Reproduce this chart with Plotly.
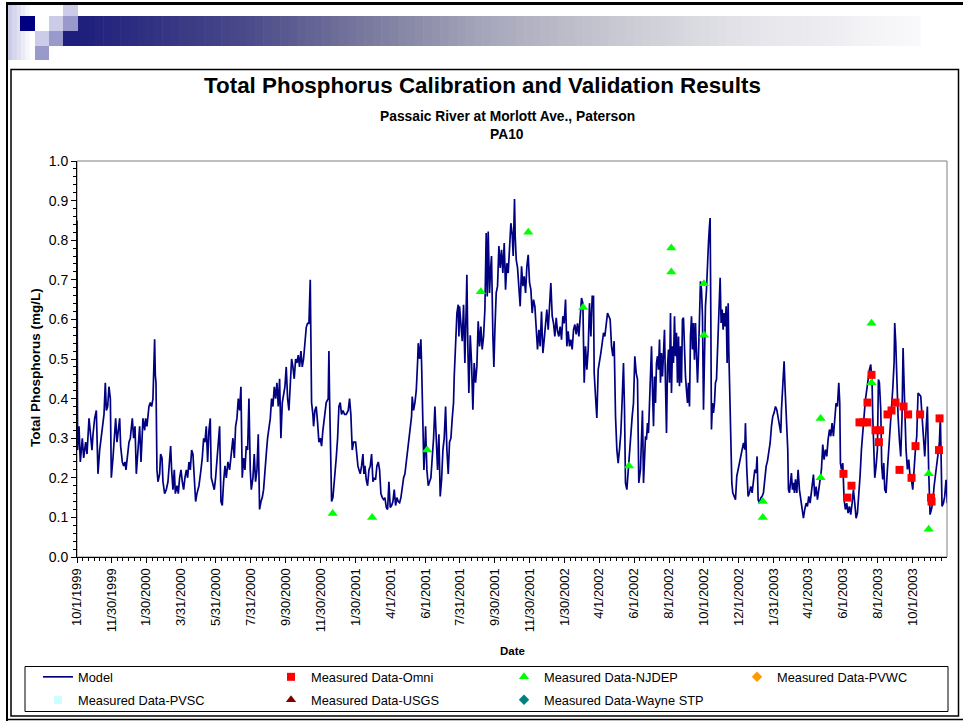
import numpy as np
import pandas as pd
import plotly.graph_objects as go

# ---------------- data ----------------
START = "1999-10-01"
END = "2003-11-30"

# Model: days since 10/1/1999 and total phosphorus (mg/L)
model_day = [
    0, 1, 3.5, 5.8, 9.3, 11.7, 15.1, 17.5, 21, 23.9,
    26.2, 28, 30.9, 33.8, 36.7, 39.6, 44.3, 47.2, 49.5, 51.3,
    53.6, 55.9, 58.3, 60, 62.9, 65.8, 67.6, 69.9, 72.2, 74.6,
    76.3, 79.2, 81.6, 83.9, 85.6, 88, 90.9, 93.2, 95, 96.7,
    99, 101.4, 103.7, 106, 109.5, 111.9, 115.3, 118.3, 120, 122.3,
    125.8, 128.2, 130.5, 132.8, 135.7, 136.9, 138.1, 139.8, 141.6, 144.5,
    146.2, 148.6, 150.3, 153.2, 156.1, 159, 161.9, 163.7, 165.4, 167.8,
    170.1, 171.9, 174.8, 177.1, 179.4, 181.8, 184.1, 186.4, 188.7, 191.1,
    193.4, 195.7, 198.1, 200.4, 202.7, 205.1, 207.4, 209.7, 213.2, 216.7,
    219, 221.4, 223.7, 226, 228.4, 230.7, 233, 234.8, 237.7, 240,
    242.3, 244.7, 247, 249.3, 251.7, 254, 256.3, 258.7, 261, 263.9,
    266.8, 269.7, 272.6, 275, 277.3, 279.6, 282, 284.3, 286.6, 288.9,
    291.3, 293.6, 295.9, 298.3, 300.6, 302.9, 304.7, 307.6, 309.9, 312.2,
    314.6, 316.9, 319.2, 321.6, 323.9, 326.2, 328.6, 330.9, 333.2, 335.5,
    337.9, 340.2, 342.5, 344.9, 347.2, 349.5, 351.9, 354.2, 356.5, 358.9,
    361.2, 363.5, 365.8, 368.2, 370.5, 372.8, 375.2, 377.5, 379.8, 382.2,
    384.5, 386.8, 389.1, 391.5, 393.8, 396.1, 398.5, 400.8, 403.1, 405.5,
    407.8, 409, 410.1, 412.4, 413.6, 415.9, 418.2, 420.6, 422.9, 425.3,
    427.6, 429.9, 433.4, 435.7, 439.2, 440.4, 441.6, 442.7, 445.1, 447.4,
    449.7, 453.2, 455.6, 457.9, 460.2, 462.5, 464.9, 467.8, 470.7, 474.2,
    476.5, 478.8,
    481.2, 483.6, 487.1, 489.4, 491.1, 492.9, 495.2, 497.5, 499.9, 501.6,
    503.4, 505.7, 508, 510.4, 512.7, 515, 517.4, 519.7, 522, 524.3,
    526.7, 529, 531.3, 533.7, 536, 538.3, 540.7, 543, 545.3, 547.6,
    550, 552.3, 554.6, 557, 559.3, 561.6, 564, 566.3, 568.6, 571,
    573.3, 575.6, 577.9, 580.3, 582.6, 584.9, 586.1, 588.4, 590.8, 593.1,
    595.4, 596.6, 598.9, 601.2, 602.4, 603.6, 604.7, 606.5, 608.2, 609.4,
    611.7, 614.1, 616.4, 618.7, 621, 623.4, 625.7, 628, 630.4, 632.7,
    635, 637.4, 639.7, 642, 644.4, 646.7, 649, 651.3, 653.7, 656,
    658.3, 659.5, 661.8, 664.2, 666.5, 667.7, 668.8, 671.1, 673.5, 675.8,
    678.1, 680.5, 681.6, 683.4, 685.1, 687.5, 689.8, 692.1, 694.4, 696.8,
    699.1, 701.4, 703.8, 706.1, 708.4, 710.8, 713.1, 715.4, 717.2, 718.9,
    721.2, 723, 724.7, 727.1, 728.8, 730.6, 732.9, 735.2, 737.6, 739.9,
    742.2, 744.5, 746.9, 749.2, 751.5, 753.9, 756.2, 758.5, 760.9, 762.6,
    763.8, 764.9, 766.1, 767.9, 770.2, 772.5, 774.8, 777.2, 779.5, 781.8,
    784.2, 786.5, 788.8, 791.2, 793.5, 795.8, 798.1, 800.5, 802.8, 805.1,
    807.5, 809.8, 812.1, 814.5, 816.8, 819.1, 821.4, 823.8, 826.1, 828.4,
    830.8, 833.1, 835.4, 837.8, 840.1, 842.4, 844.7, 847.1, 849.4, 851.7,
    854.1, 856.4, 858.7, 861.1, 863.4, 865.7, 868.1, 870.4, 872.7, 875,
    877.4, 879.7, 882, 884.4, 886.7, 889, 891.4, 893.7, 896, 898.4,
    900.7, 903, 904.2, 906.5, 908.8, 911.2, 913.5, 915.8, 918.2, 920.5,
    922.8, 925.1, 927.5, 929.8, 932.1, 934.5, 936.8, 939.1, 940.3, 941.5,
    943.8, 946.1, 948.4, 950.8, 953.1, 955.4, 957.2, 958.9, 961.3, 963.6,
    965.9, 968.3, 970.6, 972.9, 975.2, 977.6, 979.9, 982.2,
    985.1, 986.9, 988.6, 990.4, 992.1, 993.9, 995.6, 997.4, 999.1, 1000.9,
    1002.6, 1004.4, 1006.1, 1007.9, 1009.6, 1011.4, 1013.1, 1014.9, 1016.6, 1018.4,
    1020.1, 1021.8, 1023.6, 1025.3, 1027.1, 1028.8, 1030.6, 1032.3, 1034.1, 1035.8,
    1037.6, 1039.3, 1041.1, 1042.8, 1044.6, 1046.3, 1048.1, 1049.8, 1051.6, 1053.3,
    1055.1, 1056.8, 1058.5, 1060.3, 1062, 1063.8, 1065.5, 1067.3, 1069, 1070.8,
    1072.5, 1074.3, 1076, 1077.8, 1079.5, 1081.3, 1083, 1084.8, 1086.5, 1088.3,
    1090, 1091.8, 1093.5, 1095.3, 1097, 1098.7, 1100.5, 1102.2, 1104, 1105.7,
    1106.9, 1108.1, 1109.2, 1111, 1112.7, 1114.5, 1116.2, 1118, 1119.7, 1121.5,
    1123.2, 1124.4, 1126.1, 1127.9, 1129.6, 1131.4, 1133.1, 1134.9, 1136.6, 1138.4,
    1139.5, 1141.3, 1143, 1144.8, 1146.5, 1148.8, 1151.2, 1153.5, 1155.8, 1158.2,
    1160.5, 1162.8, 1165.2, 1167.5, 1168.6, 1171, 1173.3, 1175.6, 1178, 1180.3,
    1182.6, 1185, 1187.3, 1189, 1190.8, 1193.1, 1195.4, 1197.8, 1200.1, 1202.4,
    1204.8, 1207.1, 1209.4, 1211.8, 1214.1, 1216.4, 1218.7, 1221.1, 1223.4, 1225.7,
    1228.1, 1230.4, 1231.6, 1233.9, 1236.2, 1238, 1239.7, 1241.5, 1242.6, 1243.8,
    1245.5, 1247.3, 1249, 1250.8, 1252.5, 1254.3, 1256, 1258.4, 1260.7, 1263,
    1265.4, 1267.7, 1270, 1272.3, 1274.7, 1277, 1279.3, 1281.7, 1284, 1286.3,
    1287.5, 1289.8, 1292.2, 1294.5, 1296.8, 1299.1, 1301.5, 1303.8, 1306.1, 1308.5,
    1310.8, 1313.1, 1315.5, 1317.8, 1320.1, 1322.4, 1324.8, 1327.1, 1329.4, 1331.8,
    1333.5, 1334.7, 1336.4, 1338.8, 1341.1, 1343.4, 1345.7, 1348.1, 1350.4, 1352.7,
    1355.1, 1357.4, 1359.7, 1362.1, 1364.4, 1366.7, 1369, 1371.4, 1373.7, 1376,
    1378.4, 1380.7, 1383, 1385.4, 1387.7, 1390, 1391.2, 1392.9, 1394.7, 1397,
    1399.3, 1401.1, 1402.8, 1405.2, 1406.9, 1408.7, 1410.4, 1412.2, 1414.5, 1416.8,
    1419.1, 1421.5, 1423.8, 1426.1, 1428.5, 1429.6, 1431.4, 1433.1, 1435.5, 1437.8,
    1440.1, 1442.4, 1444.2, 1445.9, 1447.7, 1449.4, 1451.8, 1454.1, 1456.4, 1458.8,
    1461.1, 1463.4, 1465.8, 1468.1, 1470.4, 1472.7, 1475.1, 1477.4, 1479.7, 1482.1,
    1484.4, 1486.7, 1489.1, 1491.4, 1493.7, 1496, 1498.4, 1500.7, 1503, 1505.4,
    1507.7, 1509.4, 1511.2, 1512.3, 1514.7, 1517, 1519.3, 1521.6,
]
model_tp = [
    0.85, 0.27, 0.33, 0.24, 0.30, 0.25, 0.29, 0.26, 0.35, 0.31,
    0.27, 0.31, 0.35, 0.37, 0.21, 0.27, 0.33, 0.36, 0.44, 0.37,
    0.38, 0.43, 0.40, 0.20, 0.25, 0.32, 0.35, 0.29, 0.33, 0.35,
    0.28, 0.24, 0.23, 0.24, 0.22, 0.26, 0.29, 0.30, 0.33, 0.35,
    0.30, 0.33, 0.21, 0.25, 0.33, 0.24, 0.35, 0.32, 0.35, 0.33,
    0.38, 0.39, 0.38, 0.40, 0.55, 0.46, 0.44, 0.22, 0.19, 0.21,
    0.26, 0.25, 0.19, 0.16, 0.17, 0.19, 0.24, 0.28, 0.22, 0.17,
    0.22, 0.16, 0.18, 0.16, 0.20, 0.22, 0.19, 0.17, 0.20, 0.22,
    0.20, 0.24, 0.22, 0.27, 0.26, 0.21, 0.14, 0.16, 0.18, 0.22,
    0.25, 0.30, 0.29, 0.33, 0.24, 0.32, 0.35, 0.20, 0.18, 0.17,
    0.20, 0.25, 0.30, 0.33, 0.14, 0.13, 0.19, 0.23, 0.20, 0.24,
    0.22, 0.27, 0.30, 0.25, 0.33, 0.35, 0.40, 0.37, 0.43, 0.20,
    0.25, 0.22, 0.28, 0.27, 0.40, 0.22, 0.17, 0.20, 0.26, 0.19,
    0.22, 0.31, 0.12, 0.14, 0.15, 0.17, 0.23, 0.26, 0.30, 0.33,
    0.35, 0.40, 0.38, 0.43, 0.40, 0.44, 0.38, 0.45, 0.30, 0.39,
    0.41, 0.43, 0.48, 0.40, 0.37, 0.45, 0.50, 0.48, 0.45, 0.50,
    0.49, 0.51, 0.48, 0.52, 0.48, 0.50, 0.54, 0.58, 0.59, 0.59,
    0.70, 0.55, 0.39, 0.36, 0.33, 0.37, 0.38, 0.34, 0.29, 0.30,
    0.28, 0.32, 0.37, 0.39, 0.40, 0.52, 0.40, 0.32, 0.14, 0.15,
    0.20, 0.25, 0.30, 0.38, 0.39, 0.36, 0.37, 0.36, 0.36, 0.37,
    0.40, 0.36,
    0.27, 0.29, 0.29, 0.25, 0.23, 0.22, 0.21, 0.23, 0.26, 0.21,
    0.23, 0.195, 0.18, 0.22, 0.23, 0.26, 0.19, 0.20, 0.195, 0.23,
    0.24, 0.22, 0.16, 0.15, 0.145, 0.15, 0.125, 0.12, 0.19, 0.125,
    0.13, 0.14, 0.17, 0.13, 0.15, 0.14, 0.137, 0.15, 0.18, 0.20,
    0.21, 0.24, 0.27, 0.30, 0.33, 0.355, 0.405, 0.37, 0.39, 0.42,
    0.49, 0.54, 0.50, 0.55, 0.49, 0.39, 0.33, 0.22, 0.27, 0.33,
    0.22, 0.18, 0.19, 0.20, 0.25, 0.30, 0.38, 0.29, 0.22, 0.31,
    0.153, 0.195, 0.27, 0.30, 0.38, 0.27, 0.21, 0.29, 0.30, 0.35,
    0.39, 0.456, 0.52, 0.616, 0.637, 0.557, 0.633, 0.583, 0.545, 0.637,
    0.49, 0.633, 0.713, 0.524, 0.414, 0.56, 0.49, 0.372, 0.49, 0.44,
    0.482, 0.595, 0.532, 0.582, 0.524, 0.557, 0.625, 0.818, 0.658, 0.822,
    0.667, 0.726, 0.76, 0.557, 0.48, 0.574, 0.667, 0.684, 0.785, 0.73,
    0.776, 0.717, 0.793, 0.675, 0.742, 0.717, 0.785, 0.843, 0.814, 0.76,
    0.835, 0.904, 0.81, 0.75, 0.73, 0.667, 0.633, 0.734, 0.684, 0.709,
    0.667, 0.734, 0.763, 0.692, 0.675, 0.616, 0.65, 0.633, 0.59, 0.524,
    0.574, 0.532, 0.62, 0.515, 0.549, 0.59, 0.625, 0.574, 0.641, 0.692,
    0.608, 0.59, 0.557, 0.604, 0.57, 0.557, 0.582, 0.549, 0.608, 0.59,
    0.65, 0.532, 0.57, 0.532, 0.549, 0.524, 0.574, 0.587, 0.562, 0.59,
    0.557, 0.608, 0.654, 0.641, 0.44, 0.532, 0.473, 0.524, 0.641, 0.557,
    0.658, 0.658, 0.464, 0.406, 0.351, 0.473, 0.49, 0.515, 0.54, 0.566,
    0.557, 0.582, 0.616, 0.608, 0.60, 0.532, 0.507, 0.545, 0.44, 0.355,
    0.271, 0.237, 0.271, 0.313, 0.397, 0.49, 0.372, 0.187, 0.17, 0.221,
    0.271, 0.305, 0.355, 0.389, 0.507, 0.465, 0.448, 0.187,
    0.221, 0.30, 0.37, 0.187, 0.246, 0.305, 0.296, 0.338, 0.313, 0.389,
    0.49, 0.532, 0.422, 0.33, 0.456, 0.389, 0.49, 0.507, 0.473, 0.549,
    0.44, 0.515, 0.456, 0.507, 0.574, 0.44, 0.313, 0.481, 0.524, 0.44,
    0.616, 0.414, 0.532, 0.49, 0.608, 0.507, 0.566, 0.44, 0.557, 0.431,
    0.532, 0.44, 0.60, 0.604, 0.507, 0.456, 0.422, 0.389, 0.44, 0.38,
    0.557, 0.608, 0.524, 0.591, 0.498, 0.591, 0.515, 0.44, 0.507, 0.608,
    0.696, 0.675, 0.608, 0.372, 0.524, 0.633, 0.675, 0.75, 0.793, 0.835,
    0.856, 0.608, 0.322, 0.389, 0.364, 0.389, 0.44, 0.448, 0.507, 0.591,
    0.633, 0.705, 0.591, 0.625, 0.574, 0.616, 0.582, 0.633, 0.49, 0.641,
    0.524, 0.38, 0.271, 0.187, 0.162, 0.153, 0.145, 0.204, 0.221, 0.237,
    0.254, 0.279, 0.288, 0.271, 0.338, 0.221, 0.153, 0.162, 0.178, 0.162,
    0.187, 0.221, 0.212, 0.254, 0.145, 0.136, 0.149, 0.153, 0.162, 0.196,
    0.229, 0.242, 0.267, 0.288, 0.33, 0.355, 0.364, 0.38, 0.372, 0.355,
    0.338, 0.313, 0.372, 0.423, 0.494, 0.423, 0.364, 0.338, 0.271, 0.17,
    0.162, 0.187, 0.212, 0.17, 0.187, 0.162, 0.196, 0.162, 0.22, 0.17,
    0.145, 0.111, 0.098, 0.12, 0.136, 0.128, 0.153, 0.136, 0.162, 0.187,
    0.208, 0.153, 0.178, 0.145, 0.17, 0.187, 0.221, 0.284, 0.246, 0.271,
    0.254, 0.296, 0.322, 0.305, 0.338, 0.305, 0.364, 0.389, 0.38, 0.44,
    0.389, 0.237, 0.221, 0.237, 0.145, 0.12, 0.136, 0.111, 0.128, 0.107,
    0.136, 0.17, 0.136, 0.098, 0.111, 0.153, 0.204, 0.271, 0.305, 0.355,
    0.397, 0.423, 0.456, 0.473, 0.486, 0.44, 0.355, 0.288, 0.20, 0.229,
    0.271, 0.448, 0.44, 0.372, 0.229, 0.196, 0.237, 0.17, 0.162, 0.221,
    0.271, 0.296, 0.355, 0.423, 0.49, 0.591, 0.54, 0.44, 0.355, 0.296,
    0.254, 0.355, 0.528, 0.44, 0.33, 0.271, 0.221, 0.246, 0.204, 0.196,
    0.17, 0.229, 0.271, 0.305, 0.414, 0.41, 0.406, 0.355, 0.296, 0.254,
    0.322, 0.38, 0.212, 0.107, 0.12, 0.136, 0.178, 0.204, 0.221, 0.254,
    0.288, 0.355, 0.246, 0.128, 0.136, 0.153, 0.195, 0.136,
]
assert len(model_day) == len(model_tp), (len(model_day), len(model_tp))

omni_dates = ["2003-06-02", "2003-06-09", "2003-06-16", "2003-06-30", "2003-07-07",
              "2003-07-14", "2003-07-14", "2003-07-21", "2003-07-28", "2003-08-03",
              "2003-08-05", "2003-08-18", "2003-08-25", "2003-09-01", "2003-09-08",
              "2003-09-15", "2003-09-23", "2003-09-29", "2003-10-06", "2003-10-14",
              "2003-11-02", "2003-11-03", "2003-11-16", "2003-11-17"]
omni_tp = [0.21, 0.15, 0.18, 0.34, 0.34,
           0.34, 0.39, 0.46, 0.32, 0.29,
           0.32, 0.36, 0.37, 0.39, 0.22,
           0.38, 0.36, 0.20, 0.28, 0.36,
           0.15, 0.14, 0.27, 0.35]

njdep_dates = ["2000-12-21", "2001-02-28", "2001-06-04", "2001-09-06", "2001-11-28",
               "2002-03-04", "2002-05-23", "2002-08-05", "2002-08-05", "2002-10-01",
               "2002-10-01", "2003-01-12", "2003-01-12", "2003-04-23", "2003-04-23",
               "2003-07-21", "2003-07-21", "2003-10-29", "2003-10-29"]
njdep_tp = [0.11, 0.10, 0.27, 0.67, 0.82,
            0.63, 0.23, 0.78, 0.72, 0.69,
            0.56, 0.14, 0.10, 0.35, 0.20,
            0.59, 0.44, 0.21, 0.07]

# series listed in the legend with no measurements in this period
pvwc_dates, pvwc_tp = [None], [None]
pvsc_dates, pvsc_tp = [None], [None]
usgs_dates, usgs_tp = [None], [None]
wayne_dates, wayne_tp = [None], [None]

tick_dates = ["1999-10-01", "1999-11-30", "2000-01-30", "2000-03-31", "2000-05-31",
              "2000-07-31", "2000-09-30", "2000-11-30", "2001-01-30", "2001-04-01",
              "2001-06-01", "2001-07-31", "2001-09-30", "2001-11-30", "2002-01-30",
              "2002-04-01", "2002-06-01", "2002-08-01", "2002-10-01", "2002-12-01",
              "2003-01-31", "2003-04-01", "2003-06-01", "2003-08-01", "2003-10-01"]
tick_labels = ["10/1/1999", "11/30/1999", "1/30/2000", "3/31/2000", "5/31/2000",
               "7/31/2000", "9/30/2000", "11/30/2000", "1/30/2001", "4/1/2001",
               "6/1/2001", "7/31/2001", "9/30/2001", "11/30/2001", "1/30/2002",
               "4/1/2002", "6/1/2002", "8/1/2002", "10/1/2002", "12/1/2002",
               "1/31/2003", "4/1/2003", "6/1/2003", "8/1/2003", "10/1/2003"]

# ---------------- geometry helpers (figure pixels -> paper) ----------------
W, H = 963, 721
L, R, T, B = 77, 16, 161, 164
PW, PH = W - L - R, H - T - B


def X(px):
    return (px - L) / PW


def Y(py):
    return (H - B - py) / PH


FONT = "Liberation Sans, Arial, Helvetica, sans-serif"

model_x = pd.Timestamp(START) + pd.to_timedelta(model_day, unit="D")

# minor ticks: 6 sub-intervals between major ticks, then the same step to the end
td = pd.to_datetime(tick_dates)
minor_vals = []
for a, b in zip(td[:-1], td[1:]):
    for k in range(1, 6):
        minor_vals.append(a + (b - a) * k / 6)
step = (td[-1] - td[-2]) / 6
k = 1
while td[-1] + step * k < pd.Timestamp(END):
    minor_vals.append(td[-1] + step * k)
    k += 1
minor_vals = [v.strftime("%Y-%m-%d %H:%M") for v in minor_vals]

fig = go.Figure()
fig.add_trace(go.Scatter(x=model_x, y=model_tp, mode="lines", name="Model",
                         line=dict(color="#000080", width=1.7), legend="legend"))
fig.add_trace(go.Scatter(x=omni_dates, y=omni_tp, mode="markers", name="Measured Data-Omni",
                         marker=dict(symbol="square", size=8, color="#FF0000"), legend="legend"))
fig.add_trace(go.Scatter(x=njdep_dates, y=njdep_tp, mode="markers", name="Measured Data-NJDEP",
                         marker=dict(symbol="triangle-up", size=9, color="#00FF00"), legend="legend"))
fig.add_trace(go.Scatter(x=pvwc_dates, y=pvwc_tp, mode="markers", name="Measured Data-PVWC",
                         marker=dict(symbol="diamond", size=8, color="#FF9900"), legend="legend"))
fig.add_trace(go.Scatter(x=pvsc_dates, y=pvsc_tp, mode="markers", name="Measured Data-PVSC",
                         marker=dict(symbol="square", size=8, color="#CCFFFF"), legend="legend2"))
fig.add_trace(go.Scatter(x=usgs_dates, y=usgs_tp, mode="markers", name="Measured Data-USGS",
                         marker=dict(symbol="triangle-up", size=9, color="#800000"), legend="legend2"))
fig.add_trace(go.Scatter(x=wayne_dates, y=wayne_tp, mode="markers", name="Measured Data-Wayne STP",
                         marker=dict(symbol="diamond", size=8, color="#008080"), legend="legend2"))

# ---------------- decoration shapes ----------------
shapes = []


def rect(x0, y0, x1, y1, fill=None, line=None, lw=0, layer="above"):
    d = dict(type="rect", xref="paper", yref="paper", x0=X(x0), x1=X(x1), y0=Y(y1), y1=Y(y0),
             layer=layer, line=dict(width=lw, color=line or "rgba(0,0,0,0)"))
    if fill:
        d["fillcolor"] = fill
    return d


def hline(x0, x1, y, color="black", w=1):
    return dict(type="line", xref="paper", yref="paper", x0=X(x0), x1=X(x1), y0=Y(y), y1=Y(y),
                line=dict(color=color, width=w))


def vline(x, y0, y1, color="black", w=1):
    return dict(type="line", xref="paper", yref="paper", x0=X(x), x1=X(x), y0=Y(y0), y1=Y(y1),
                line=dict(color=color, width=w))


# banner gradient bar
stops_x = [78, 246, 369, 491, 614, 737, 860, 920]
stops_c = np.array([[30, 30, 124], [74, 74, 138], [122, 122, 158], [168, 168, 188],
                    [200, 200, 210], [226, 226, 232], [242, 242, 245], [250, 250, 251]])
edges = np.linspace(78, 920, 101)
for a, b in zip(edges[:-1], edges[1:]):
    m = (a + b) / 2
    c = [int(round(np.interp(m, stops_x, stops_c[:, i]))) for i in range(3)]
    shapes.append(rect(a, 16, b + 0.6, 46, fill="rgb(%d,%d,%d)" % tuple(c)))
# left light strip
sx = np.linspace(8, 34, 7)
for i, (a, b) in enumerate(zip(sx[:-1], sx[1:])):
    t = i / 5
    c = [int(round(204 + (255 - 204) * t)), int(round(204 + (255 - 204) * t)), int(round(232 + (255 - 232) * t))]
    shapes.append(rect(a, 5, b + 0.5, 60, fill="rgb(%d,%d,%d)" % tuple(c)))
LAV, MED, NAV = "#CCCCE8", "#9999CC", "#000080"
shapes += [
    rect(63, 5, 78, 16, fill=LAV),
    rect(20, 16, 35, 31, fill=NAV),
    rect(49, 16, 63, 31, fill=LAV),
    rect(63, 16, 78, 31, fill=MED),
    rect(35, 31, 49, 46, fill=LAV),
    rect(49, 31, 63, 46, fill=MED),
    rect(63, 31, 78.5, 46, fill="#1E1E7C"),
    rect(35, 46, 49, 60, fill=MED),
]
# slide / chart frame lines
shapes += [
    hline(6, 963, 3.5, w=3),
    vline(7, 2, 721, w=2),
    hline(6, 963, 719.5, w=1.5),
    rect(11, 69.5, 958.5, 716, line="black", lw=1.5),
    rect(25, 666.5, 948, 711.5, line="black", lw=1),
    # plot-area border (gray top/right)
    dict(type="rect", xref="paper", yref="paper", x0=0, x1=1, y0=0, y1=1,
         line=dict(color="#808080", width=1), layer="below"),
]

annotations = [
    dict(text="Total Phosphorus Calibration and Validation Results", x=X(482), y=Y(86),
         font=dict(size=22.4, family=FONT, weight="bold", color="black")),
    dict(text="Passaic River at Morlott Ave., Paterson", x=X(507), y=Y(116),
         font=dict(size=13.8, family=FONT, weight="bold", color="black")),
    dict(text="PA10", x=X(507), y=Y(135),
         font=dict(size=13.8, family=FONT, weight="bold", color="black")),
    dict(text="Total Phosphorus (mg/L)", x=X(35), y=Y(368), textangle=-90,
         font=dict(size=13.5, family=FONT, weight="bold", color="black")),
    dict(text="Date", x=X(512), y=Y(651),
         font=dict(size=11.5, family=FONT, weight="bold", color="black")),
]
for a in annotations:
    a.update(xref="paper", yref="paper", showarrow=False, xanchor="center", yanchor="middle")

leg_common = dict(orientation="h", xanchor="left", yanchor="top", entrywidth=188,
                  entrywidthmode="pixels", font=dict(size=12.8, family=FONT, color="black"),
                  bgcolor="rgba(0,0,0,0)", borderwidth=0, itemclick=False, itemdoubleclick=False,
                  traceorder="normal")

fig.update_layout(
    width=W, height=H,
    margin=dict(l=L, r=R, t=T, b=B, pad=0, autoexpand=False),
    paper_bgcolor="white", plot_bgcolor="white",
    font=dict(family=FONT, color="black", size=12),
    showlegend=True,
    xaxis=dict(type="date", range=[START, END], tickmode="array", tickvals=tick_dates,
               ticktext=tick_labels, tickangle=-90, ticks="outside", ticklen=5, tickwidth=1,
               tickcolor="black", showline=True, linecolor="black", linewidth=1,
               showgrid=False, zeroline=False, tickfont=dict(size=13, family=FONT),
               automargin=False,
               minor=dict(tickmode="array", tickvals=minor_vals, ticks="outside", ticklen=3,
                          tickcolor="black", tickwidth=1, showgrid=False)),
    yaxis=dict(range=[0, 1], tickmode="linear", tick0=0, dtick=0.1, tickformat=".1f",
               ticks="outside", ticklen=5, tickwidth=1, tickcolor="black", showline=True,
               linecolor="black", linewidth=1, showgrid=False, zeroline=False,
               tickfont=dict(size=14, family=FONT), automargin=False,
               minor=dict(tick0=0, dtick=0.02, ticks="outside", ticklen=3, tickcolor="black",
                          tickwidth=1, showgrid=False)),
    legend=dict(x=X(38), y=Y(662), **leg_common),
    legend2=dict(x=X(38), y=Y(685), **leg_common),
    shapes=shapes,
    annotations=annotations,
)

fig.write_html("out.html", config={"displayModeBar": False},
               post_script="document.body.style.margin='0';")
